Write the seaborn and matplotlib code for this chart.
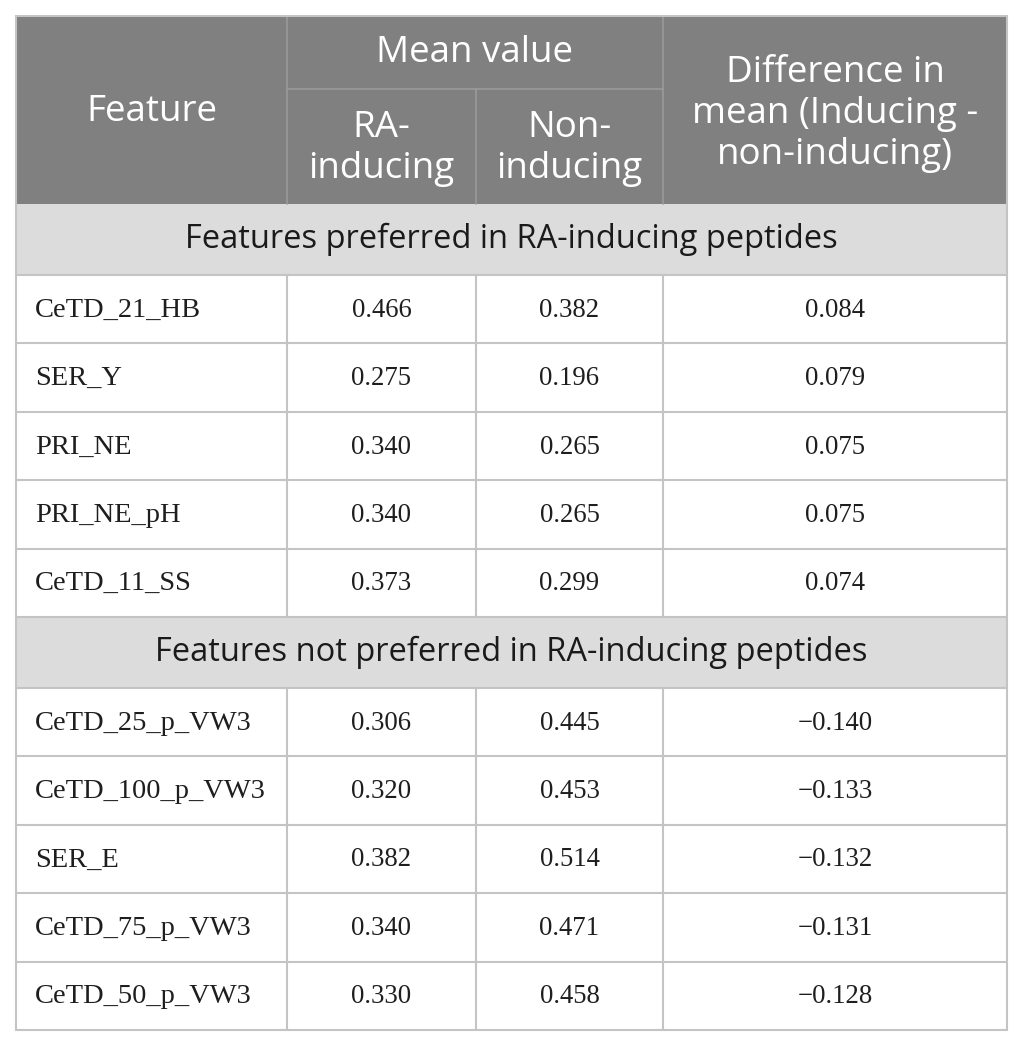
import matplotlib
matplotlib.use("Agg")
import matplotlib.pyplot as plt
from matplotlib.patches import Rectangle
import seaborn as sns

# ---- data ----
features_pref = ["CeTD_21_HB", "SER_Y", "PRI_NE", "PRI_NE_pH", "CeTD_11_SS"]
ra_pref = [0.466, 0.275, 0.340, 0.340, 0.373]
non_pref = [0.382, 0.196, 0.265, 0.265, 0.299]
diff_pref = [0.084, 0.079, 0.075, 0.075, 0.074]

features_not = ["CeTD_25_p_VW3", "CeTD_100_p_VW3", "SER_E", "CeTD_75_p_VW3", "CeTD_50_p_VW3"]
ra_not = [0.306, 0.320, 0.382, 0.340, 0.330]
non_not = [0.445, 0.453, 0.514, 0.471, 0.458]
diff_not = [-0.140, -0.133, -0.132, -0.131, -0.128]

section_titles = ["Features preferred in RA-inducing peptides",
                  "Features not preferred in RA-inducing peptides"]
header_feature = "Feature"
header_mean = "Mean value"
header_ra = "RA-\ninducing"
header_non = "Non-\ninducing"
header_diff = "Difference in\nmean (Inducing -\nnon-inducing)"

# ---- style ----
sns.set_theme(style="white")
plt.rcParams["font.family"] = ["Open Sans", "DejaVu Sans"]

HEAD_BG = "#808080"
HEAD_LINE = "#9a9a9a"
SEC_BG = "#dcdcdc"
GRID = "#c4c4c4"
BODY_TXT = "#1e1e1e"
SERIF = ["Liberation Serif", "DejaVu Serif"]

col_edges = [16, 287, 476, 663, 1007]
table_top = 16
head_mid = 89
head_bot = 204
sec_h = 71
row_h = 68.4

fig = plt.figure(figsize=(10.25, 10.46), dpi=100)
ax = fig.add_axes([0, 0, 1, 1])
ax.set_xlim(0, 1025)
ax.set_ylim(1046, 0)
ax.axis("off")

left, right = col_edges[0], col_edges[-1]

# header background
ax.add_patch(Rectangle((left, table_top), right - left, head_bot - table_top,
                       facecolor=HEAD_BG, edgecolor="none", zorder=1))
# header internal lines
for x in col_edges[1:-1]:
    y0 = table_top if x != col_edges[2] else head_mid
    ax.plot([x, x], [y0, head_bot], color=HEAD_LINE, lw=1.2, zorder=2)
ax.plot([col_edges[1], col_edges[3]], [head_mid, head_mid], color=HEAD_LINE, lw=1.2, zorder=2)

hfs = 26.5
ls = 1.17
ax.text((col_edges[0] + col_edges[1]) / 2, (table_top + head_bot) / 2 + 2, header_feature,
        ha="center", va="center", color="white", fontsize=hfs)
ax.text((col_edges[1] + col_edges[3]) / 2, (table_top + head_mid) / 2 + 1, header_mean,
        ha="center", va="center", color="white", fontsize=hfs)
ax.text((col_edges[1] + col_edges[2]) / 2, (head_mid + head_bot) / 2 + 2, header_ra,
        ha="center", va="center", color="white", fontsize=hfs, linespacing=ls)
ax.text((col_edges[2] + col_edges[3]) / 2, (head_mid + head_bot) / 2 + 2, header_non,
        ha="center", va="center", color="white", fontsize=hfs, linespacing=ls)
ax.text((col_edges[3] + col_edges[4]) / 2, (table_top + head_bot) / 2 + 4, header_diff,
        ha="center", va="center", color="white", fontsize=hfs, linespacing=ls)


def fmt(v):
    s = f"{v:.3f}"
    return s.replace("-", "\u2212")


def draw_section(y, title, feats, ra, non, diff):
    ax.add_patch(Rectangle((left, y), right - left, sec_h, facecolor=SEC_BG,
                           edgecolor="none", zorder=1))
    ax.text((left + right) / 2, y + sec_h / 2, title, ha="center", va="center",
            color="#1a1a1a", fontsize=23.5)
    ax.plot([left, right], [y + sec_h, y + sec_h], color=GRID, lw=1.5, zorder=3)
    y0 = y + sec_h
    for i, (f, a, b, d) in enumerate(zip(feats, ra, non, diff)):
        yt = y0 + i * row_h
        yc = yt + row_h / 2 + 1
        ax.text(col_edges[0] + 19, yc, f, ha="left", va="center", color=BODY_TXT,
                fontsize=20.5, family=SERIF)
        for j, v in enumerate([a, b, d]):
            ax.text((col_edges[j + 1] + col_edges[j + 2]) / 2, yc, fmt(v), ha="center",
                    va="center", color=BODY_TXT, fontsize=19.3, family=SERIF)
        ax.plot([left, right], [yt + row_h, yt + row_h], color=GRID, lw=1.5, zorder=3)
        for x in col_edges[1:-1]:
            ax.plot([x, x], [yt, yt + row_h], color=GRID, lw=1.5, zorder=3)
    return y0 + len(feats) * row_h


y = head_bot
y = draw_section(y, section_titles[0], features_pref, ra_pref, non_pref, diff_pref)
y = draw_section(y, section_titles[1], features_not, ra_not, non_not, diff_not)

# outer border
ax.plot([left, left], [table_top, y], color=GRID, lw=1.5, zorder=4)
ax.plot([right, right], [table_top, y], color=GRID, lw=1.5, zorder=4)
ax.plot([left, right], [table_top, table_top], color=GRID, lw=1.5, zorder=4)

fig.savefig("out.png", dpi=100)
